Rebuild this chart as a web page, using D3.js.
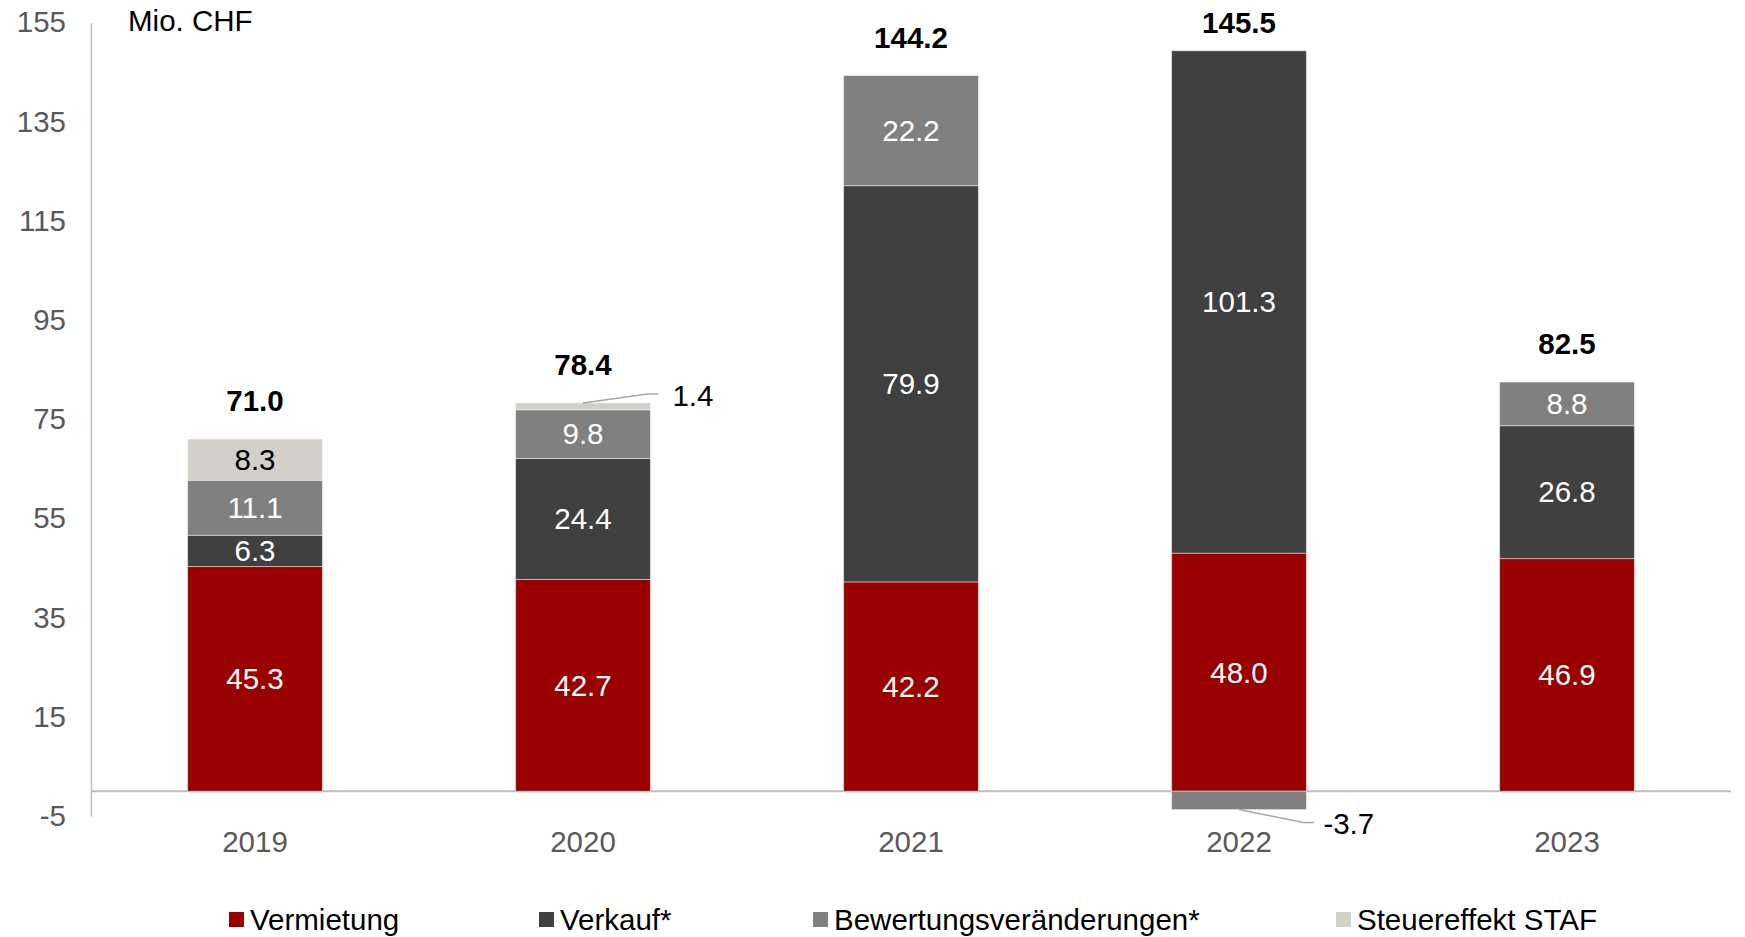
<!DOCTYPE html>
<html>
<head>
<meta charset="utf-8">
<script src="https://cdn.jsdelivr.net/npm/d3@7"></script>
<style>
  html, body { margin: 0; padding: 0; background: #fff; }
  svg { display: block; font-family: "Liberation Sans", Arial, sans-serif; }
</style>
</head>
<body>
<svg id="chart" width="1745" height="937"></svg>
<script>
// Erfolg nach Quelle, Mio. CHF
const years = ["2019", "2020", "2021", "2022", "2023"];
const seriesNames = ["Vermietung", "Verkauf*", "Bewertungsveränderungen*", "Steuereffekt STAF"];
const vermietung = [45.3, 42.7, 42.2, 48.0, 46.9];
const verkauf = [6.3, 24.4, 79.9, 101.3, 26.8];
const bewertung = [11.1, 9.8, 22.2, -3.7, 8.8];
const steuereffekt = [8.3, 1.4, 0, 0, 0];
const totals = [71.0, 78.4, 144.2, 145.5, 82.5];
const yTicks = [-5, 15, 35, 55, 75, 95, 115, 135, 155];
const unitLabel = "Mio. CHF";

const colors = ["#990000", "#404040", "#808080", "#D3CFC9"];
const labelColors = ["#fff", "#fff", "#fff", "#000"];
const FONT = 29.5;

const svg = d3.select("#chart");

const keys = ["v0", "v1", "v2", "v3"];
const rows = years.map((y, i) => ({
  year: y, v0: vermietung[i], v1: verkauf[i], v2: bewertung[i], v3: steuereffekt[i]
}));

const stack = d3.stack().keys(keys).offset(d3.stackOffsetDiverging);
const layers = stack(rows);

const x = d3.scaleBand().domain(years).range([91, 1731])
  .paddingInner(0.589).paddingOuter(0.2945);
const y = d3.scaleLinear().domain([-5, 155]).range([816, 22.5]);

// y axis labels
const yAxis = d3.axisLeft(y).tickValues(yTicks).tickFormat(d => String(d))
  .tickSize(0).tickPadding(25);
const gy = svg.append("g").attr("transform", "translate(91,0)").call(yAxis);
gy.select(".domain").attr("stroke", "#BFBFBF").attr("stroke-width", 1.5);
gy.selectAll("text").attr("fill", "#595959").attr("font-size", FONT)
  .attr("font-family", "Liberation Sans, Arial, sans-serif");

// zero line
svg.append("line")
  .attr("x1", 91).attr("x2", 1731)
  .attr("y1", y(0)).attr("y2", y(0))
  .attr("stroke", "#BFBFBF").attr("stroke-width", 2);

// year labels
const xAxis = d3.axisBottom(x).tickSize(0).tickPadding(0);
const gx = svg.append("g").attr("transform", "translate(0,842)").call(xAxis);
gx.select(".domain").remove();
gx.selectAll("text").attr("fill", "#595959").attr("font-size", FONT)
  .attr("font-family", "Liberation Sans, Arial, sans-serif")
  .attr("dy", "0.35em");

// stacked bars
const segs = [];
layers.forEach((layer, li) => {
  layer.forEach((d, i) => {
    const v = rows[i][layer.key];
    if (v === 0) return;
    segs.push({ li, i, v, y0: d[0], y1: d[1], year: years[i] });
  });
});

svg.append("g").selectAll("rect").data(segs).join("rect")
  .attr("x", d => x(d.year))
  .attr("width", x.bandwidth())
  .attr("y", d => y(Math.max(d.y0, d.y1)))
  .attr("height", d => Math.abs(y(d.y0) - y(d.y1)))
  .attr("fill", d => colors[d.li])
  .attr("stroke", "#fff").attr("stroke-opacity", 0.45).attr("stroke-width", 1);

// value labels inside segments
const inside = segs.filter(d => Math.abs(d.v) >= 5);
svg.append("g").selectAll("text").data(inside).join("text")
  .attr("x", d => x(d.year) + x.bandwidth() / 2)
  .attr("y", d => y((d.y0 + d.y1) / 2))
  .attr("dy", "0.35em")
  .attr("text-anchor", "middle")
  .attr("font-size", FONT)
  .attr("fill", d => labelColors[d.li])
  .text(d => d.v.toFixed(1));

// small segments: label beside the bar with a leader line
const outside = segs.filter(d => Math.abs(d.v) < 5);
const gOut = svg.append("g");
outside.forEach(d => {
  const cx = x(d.year) + x.bandwidth() / 2;
  const xr = x(d.year) + x.bandwidth();
  const up = d.v > 0;
  const yEdge = up ? y(d.y1) : y(d.y0);
  const yEl = up ? yEdge - 9 : yEdge + 13;
  gOut.append("path")
    .attr("d", d3.line()([[cx, yEdge], [xr - 3, yEl], [xr + 8, yEl]]))
    .attr("fill", "none").attr("stroke", "#A6A6A6").attr("stroke-width", 1.5);
  gOut.append("text")
    .attr("x", up ? xr + 22 : xr + 17)
    .attr("y", up ? yEl + 2 : yEl + 1)
    .attr("dy", "0.35em")
    .attr("font-size", FONT)
    .attr("fill", "#000")
    .text(d.v.toFixed(1));
});

// totals above the bars
const stackTop = years.map((yr, i) => d3.max(layers, l => l[i][1]));
svg.append("g").selectAll("text").data(years).join("text")
  .attr("x", d => x(d) + x.bandwidth() / 2)
  .attr("y", (d, i) => Math.max(y(stackTop[i]) - 38, y(155)))
  .attr("dy", "0.35em")
  .attr("text-anchor", "middle")
  .attr("font-size", FONT)
  .attr("font-weight", "bold")
  .attr("fill", "#000")
  .text((d, i) => totals[i].toFixed(1));

// unit label
svg.append("text")
  .attr("x", 128).attr("y", 21).attr("dy", "0.35em")
  .attr("font-size", FONT).attr("fill", "#000")
  .text(unitLabel);

// legend
const legendX = [229, 539, 813, 1336];
const lg = svg.append("g").selectAll("g").data(seriesNames).join("g")
  .attr("transform", (d, i) => `translate(${legendX[i]},919.5)`);
lg.append("rect").attr("x", 0).attr("y", -7.5).attr("width", 15).attr("height", 15)
  .attr("fill", (d, i) => colors[i]);
lg.append("text").attr("x", 21).attr("dy", "0.35em")
  .attr("font-size", FONT).attr("fill", "#000")
  .text(d => d);
</script>
</body>
</html>
